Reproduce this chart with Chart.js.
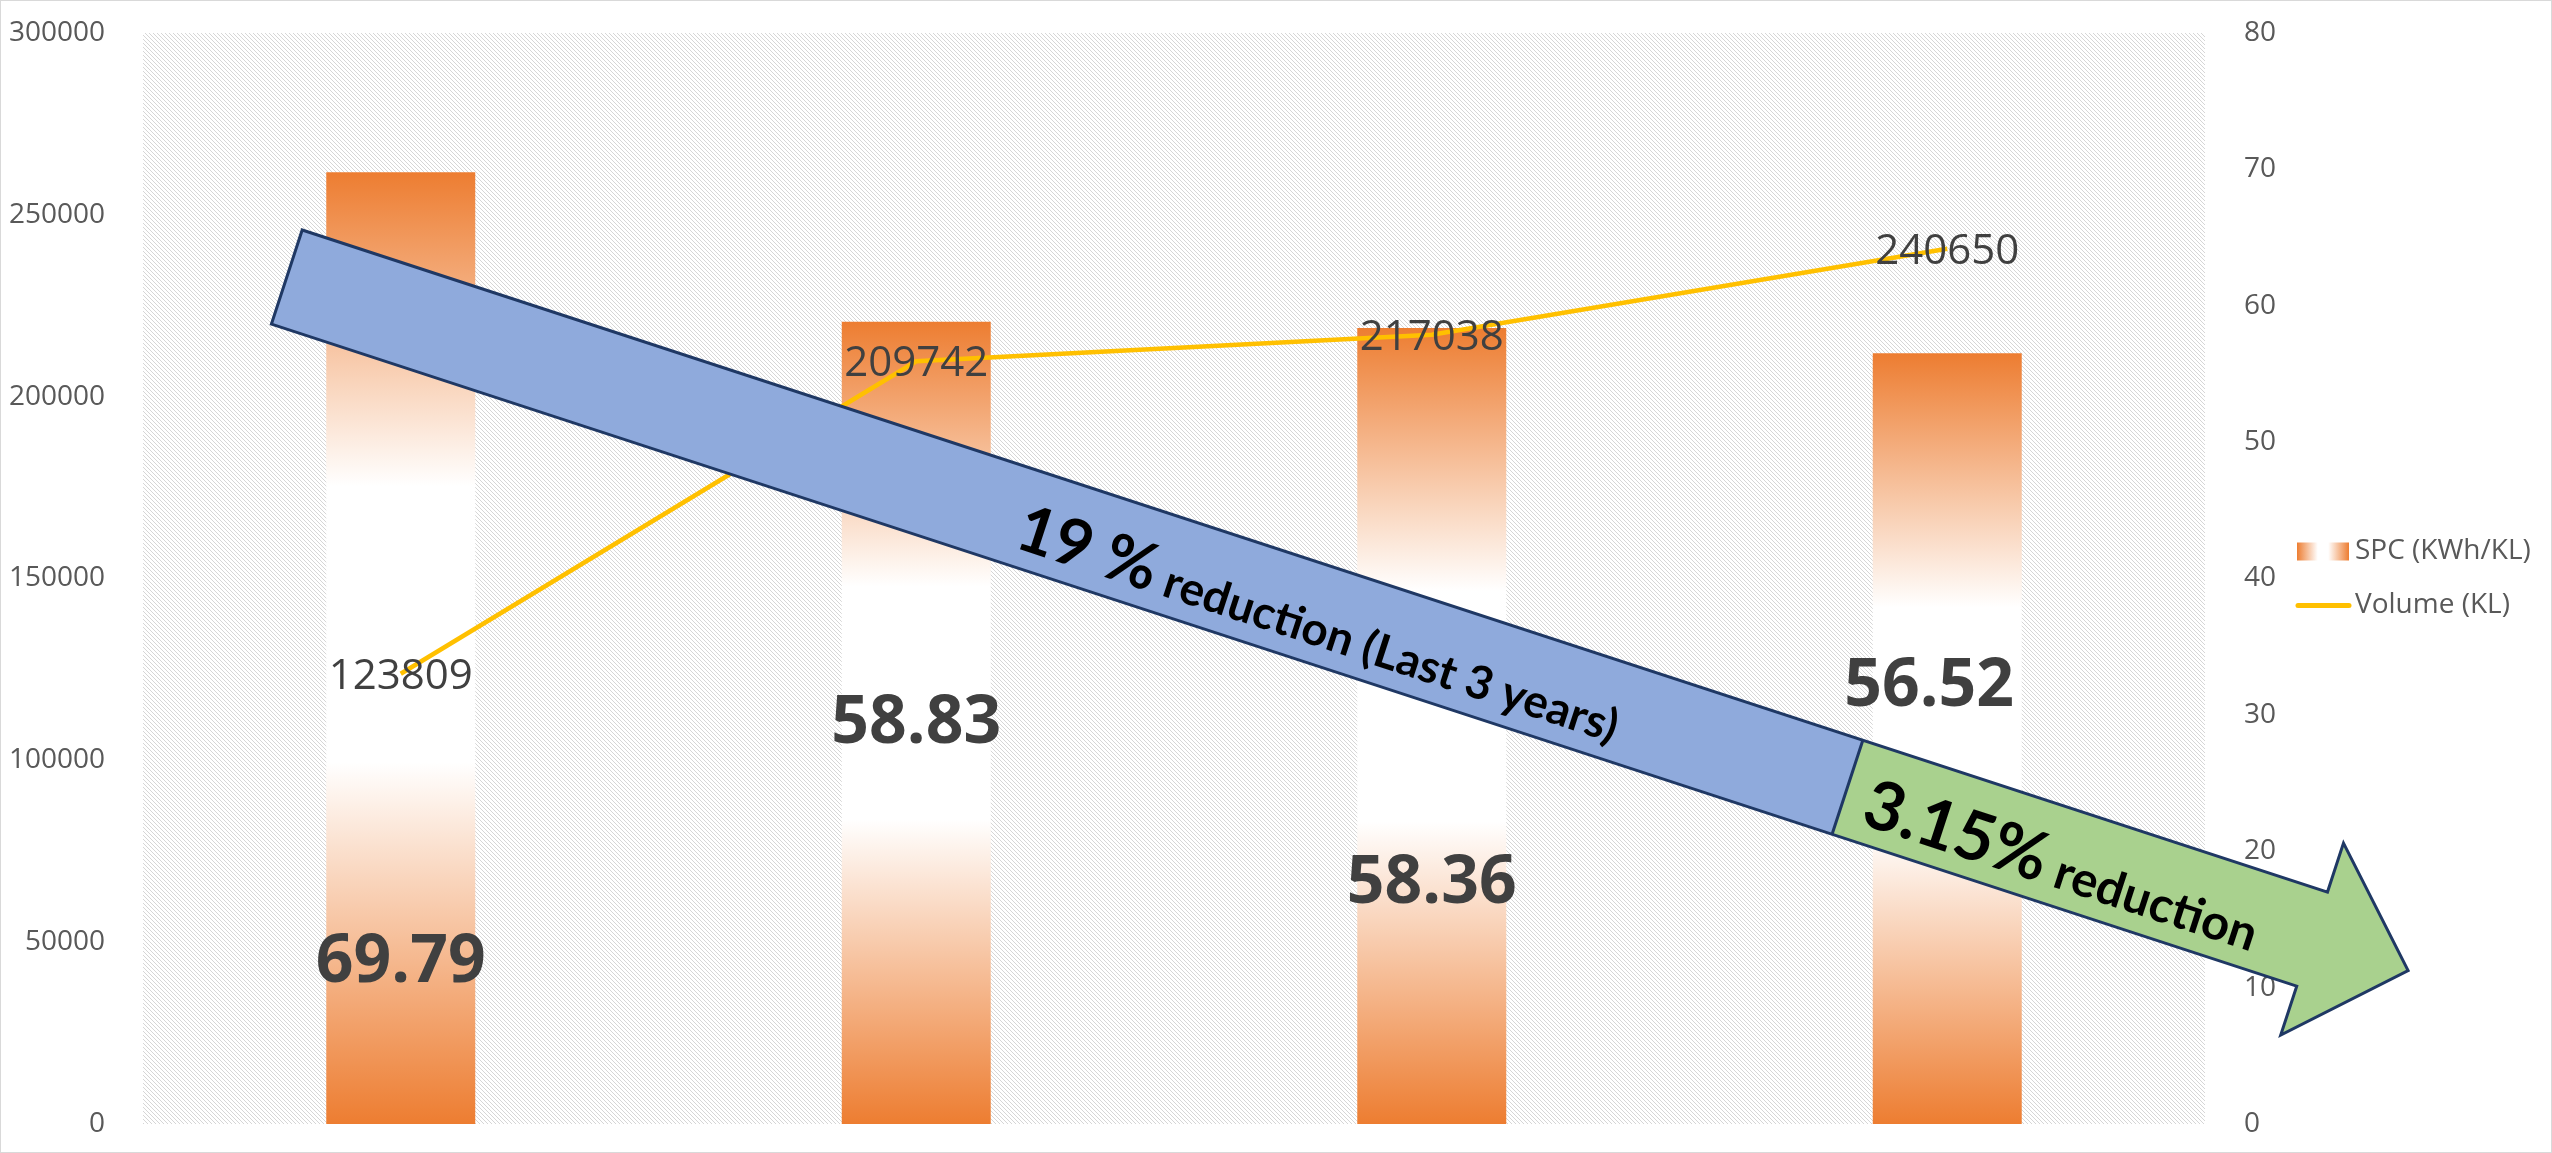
<!DOCTYPE html>
<html>
<head>
<meta charset="utf-8">
<script src="https://cdn.jsdelivr.net/npm/chart.js@4.4.0/dist/chart.umd.min.js"></script>
<style>
  html, body { margin: 0; padding: 0; background: #fff; overflow: hidden; }
  canvas { display: block; }
</style>
</head>
<body>
<canvas id="chart" width="2552" height="1153"></canvas>
<script>
// data
const categories = ["", "", "", ""];
const spcValues = [69.79, 58.83, 58.36, 56.52];
const volumeValues = [123809, 209742, 217038, 240650];
const leftTicks = { max: 300000, step: 50000 };
const rightTicks = { max: 80, step: 10 };
// where each SPC label sits: height in right axis units, sideways shift in category units
const spcLabelAt = [11.8, 29.3, 17.6, 32.0];
const spcLabelShift = [0, 0, 0, -0.035];

const ORANGE = "#ED7D31";
const TEXT = "#595959";
const LABEL = "#404040";
const FONT = "'Open Sans', sans-serif";

// hatch pattern for the plot area
function hatch(ctx) {
    const c = document.createElement("canvas");
    c.width = 4; c.height = 4;
    const g = c.getContext("2d");
    g.fillStyle = "#d6d6d6";
    for (let i = 0; i < 4; i++) g.fillRect(i, i, 1, 1);
    return ctx.createPattern(c, "repeat");
}

function barGradient(context) {
    const chart = context.chart;
    const s = chart.scales.y2;
    if (!s || !chart.chartArea || context.raw == null) return ORANGE;
    const top = s.getPixelForValue(context.raw);
    const base = s.getPixelForValue(0);
    const gr = chart.ctx.createLinearGradient(0, top, 0, base);
    gr.addColorStop(0, ORANGE);
    gr.addColorStop(0.33, "#ffffff");
    gr.addColorStop(0.62, "#ffffff");
    gr.addColorStop(1, ORANGE);
    return gr;
}

// axis labels may hang over the plot edges, like in the original
function fitAxis(width) {
    return s => {
        s.width = width;
        s.paddingTop = 0;
        s.paddingBottom = 0;
    };
}

const background = {
    id: "background",
    beforeDatasetsDraw(chart) {
        const { ctx, chartArea: a } = chart;
        ctx.save();
        ctx.fillStyle = hatch(ctx);
        ctx.fillRect(a.left, a.top, a.right - a.left, a.bottom - a.top);
        ctx.restore();
    },
    afterDraw(chart) {
        const ctx = chart.ctx;
        ctx.save();
        ctx.strokeStyle = "#d9d9d9";
        ctx.lineWidth = 1;
        ctx.strokeRect(0.5, 0.5, chart.width - 1, chart.height - 1);
        ctx.restore();
    }
};

// legend to the right of the right axis
const legendBox = {
    id: "legendBox",
    afterDraw(chart) {
        const ctx = chart.ctx;
        const a = chart.chartArea;
        const x = a.right + 92;
        const mid = (a.top + a.bottom) / 2;
        const rows = [mid - 27, mid + 27];
        ctx.save();
        const gr = ctx.createLinearGradient(x, 0, x + 52, 0);
        gr.addColorStop(0, ORANGE);
        gr.addColorStop(0.4, "#ffffff");
        gr.addColorStop(0.6, "#ffffff");
        gr.addColorStop(1, ORANGE);
        ctx.fillStyle = gr;
        ctx.fillRect(x, rows[0] - 9, 52, 18);

        ctx.strokeStyle = "#FFC000";
        ctx.lineWidth = 5;
        ctx.lineCap = "round";
        ctx.beginPath();
        ctx.moveTo(x + 1, rows[1]);
        ctx.lineTo(x + 52, rows[1]);
        ctx.stroke();

        ctx.fillStyle = TEXT;
        ctx.font = "28px " + FONT;
        ctx.textBaseline = "middle";
        ctx.textAlign = "left";
        chart.data.datasets.forEach((d, i) => ctx.fillText(d.label, x + 58, rows[i]));
        ctx.restore();
    }
};

const labels = {
    id: "labels",
    afterDatasetsDraw(chart) {
        const ctx = chart.ctx;
        ctx.save();
        ctx.textAlign = "center";
        ctx.textBaseline = "middle";
        ctx.fillStyle = LABEL;

        // volume labels on the line points
        ctx.font = "42px " + FONT;
        chart.getDatasetMeta(1).data.forEach((pt, i) => {
            ctx.fillText(String(volumeValues[i]), pt.x, pt.y + 3);
        });

        // SPC labels inside the bars
        ctx.font = "bold 66px " + FONT;
        const x = chart.scales.x, y2 = chart.scales.y2;
        spcValues.forEach((v, i) => {
            ctx.fillText(v.toFixed(2), x.getPixelForValue(i + spcLabelShift[i]), y2.getPixelForValue(spcLabelAt[i]));
        });
        ctx.restore();
    }
};

// the big trend arrow, anchored in data space
const arrow = {
    id: "arrow",
    afterDatasetsDraw(chart) {
        const ctx = chart.ctx;
        const x = chart.scales.x, y = chart.scales.y;
        const T = { x: x.getPixelForValue(-0.221), y: y.getPixelForValue(232900) };
        const P = { x: x.getPixelForValue(3.894), y: y.getPixelForValue(42210) };
        const L = Math.hypot(P.x - T.x, P.y - T.y);
        const u = { x: (P.x - T.x) / L, y: (P.y - T.y) / L };
        const n = { x: -u.y, y: u.x };
        const at = (a, off) => [T.x + u.x * a + n.x * off, T.y + u.y * a + n.y * off];
        const hw = 49.5, headW = 101, headL = 101;
        const split = L * 0.7357;

        const poly = (pts, fill) => {
            ctx.beginPath();
            pts.forEach((p, i) => i ? ctx.lineTo(p[0], p[1]) : ctx.moveTo(p[0], p[1]));
            ctx.closePath();
            ctx.fillStyle = fill;
            ctx.fill();
        };
        ctx.save();
        poly([at(0, -hw), at(split, -hw), at(split, hw), at(0, hw)], "#8FAADC");
        poly([at(split, -hw), at(L - headL, -hw), at(L - headL, -headW), at(L, 0),
              at(L - headL, headW), at(L - headL, hw), at(split, hw)], "#A9D18E");

        ctx.strokeStyle = "#1F3864";
        ctx.lineWidth = 3;
        ctx.lineJoin = "miter";
        ctx.beginPath();
        [at(0, -hw), at(L - headL, -hw), at(L - headL, -headW), at(L, 0),
         at(L - headL, headW), at(L - headL, hw), at(0, hw)].forEach((p, i) =>
            i ? ctx.lineTo(p[0], p[1]) : ctx.moveTo(p[0], p[1]));
        ctx.closePath();
        ctx.moveTo(...at(split, -hw));
        ctx.lineTo(...at(split, hw));
        ctx.stroke();

        // text along the arrow
        const angle = Math.atan2(u.y, u.x);
        const writeRun = (cx, parts) => {
            ctx.save();
            const p = at(cx, 31);
            ctx.translate(p[0], p[1]);
            ctx.rotate(angle);
            ctx.fillStyle = "#000";
            ctx.textBaseline = "alphabetic";
            ctx.textAlign = "left";
            let total = 0;
            parts.forEach(pt => { ctx.font = pt.font; total += ctx.measureText(pt.text).width; });
            let xx = -total / 2;
            parts.forEach(pt => {
                ctx.font = pt.font;
                ctx.fillText(pt.text, xx, 0);
                xx += ctx.measureText(pt.text).width;
            });
            ctx.restore();
        };
        writeRun(L * 0.488, [{ text: "19 %", font: "bold 65px Lato, sans-serif" },
                             { text: " reduction (Last 3 years)", font: "bold 46px Lato, sans-serif" }]);
        writeRun(L * 0.838, [{ text: "3.15%", font: "bold 68px Lato, sans-serif" },
                             { text: " reduction", font: "bold 49px Lato, sans-serif" }]);
        ctx.restore();
    }
};

new Chart(document.getElementById("chart"), {
    data: {
        labels: categories,
        datasets: [{
            type: "bar",
            label: "SPC (KWh/KL)",
            data: spcValues,
            yAxisID: "y2",
            backgroundColor: barGradient,
            categoryPercentage: 1,
            barPercentage: 0.289,
            order: 1
        }, {
            type: "line",
            label: "Volume (KL)",
            data: volumeValues,
            yAxisID: "y",
            borderColor: "#FFC000",
            borderWidth: 4.5,
            pointRadius: 0,
            tension: 0,
            order: 0
        }]
    },
    options: {
        responsive: false,
        devicePixelRatio: 1,
        animation: false,
        layout: { autoPadding: false, padding: { top: 33, bottom: 29, right: 265, left: 0 } },
        scales: {
            x: { display: false, offset: true, grid: { display: false } },
            y: {
                position: "left",
                min: 0, max: leftTicks.max,
                grid: { display: false },
                border: { display: false },
                ticks: {
                    stepSize: leftTicks.step, color: TEXT, font: { family: FONT, size: 28 }, padding: 30,
                    callback: v => String(v)
                },
                afterFit: fitAxis(143)
            },
            y2: {
                position: "right",
                min: 0, max: rightTicks.max,
                grid: { display: false },
                border: { display: false },
                ticks: {
                    stepSize: rightTicks.step, color: TEXT, font: { family: FONT, size: 28 }, padding: 31,
                    callback: v => String(v)
                },
                afterFit: fitAxis(82)
            }
        },
        plugins: {
            legend: { display: false },
            tooltip: { enabled: false }
        }
    },
    plugins: [background, labels, arrow, legendBox]
});
</script>
</body>
</html>
